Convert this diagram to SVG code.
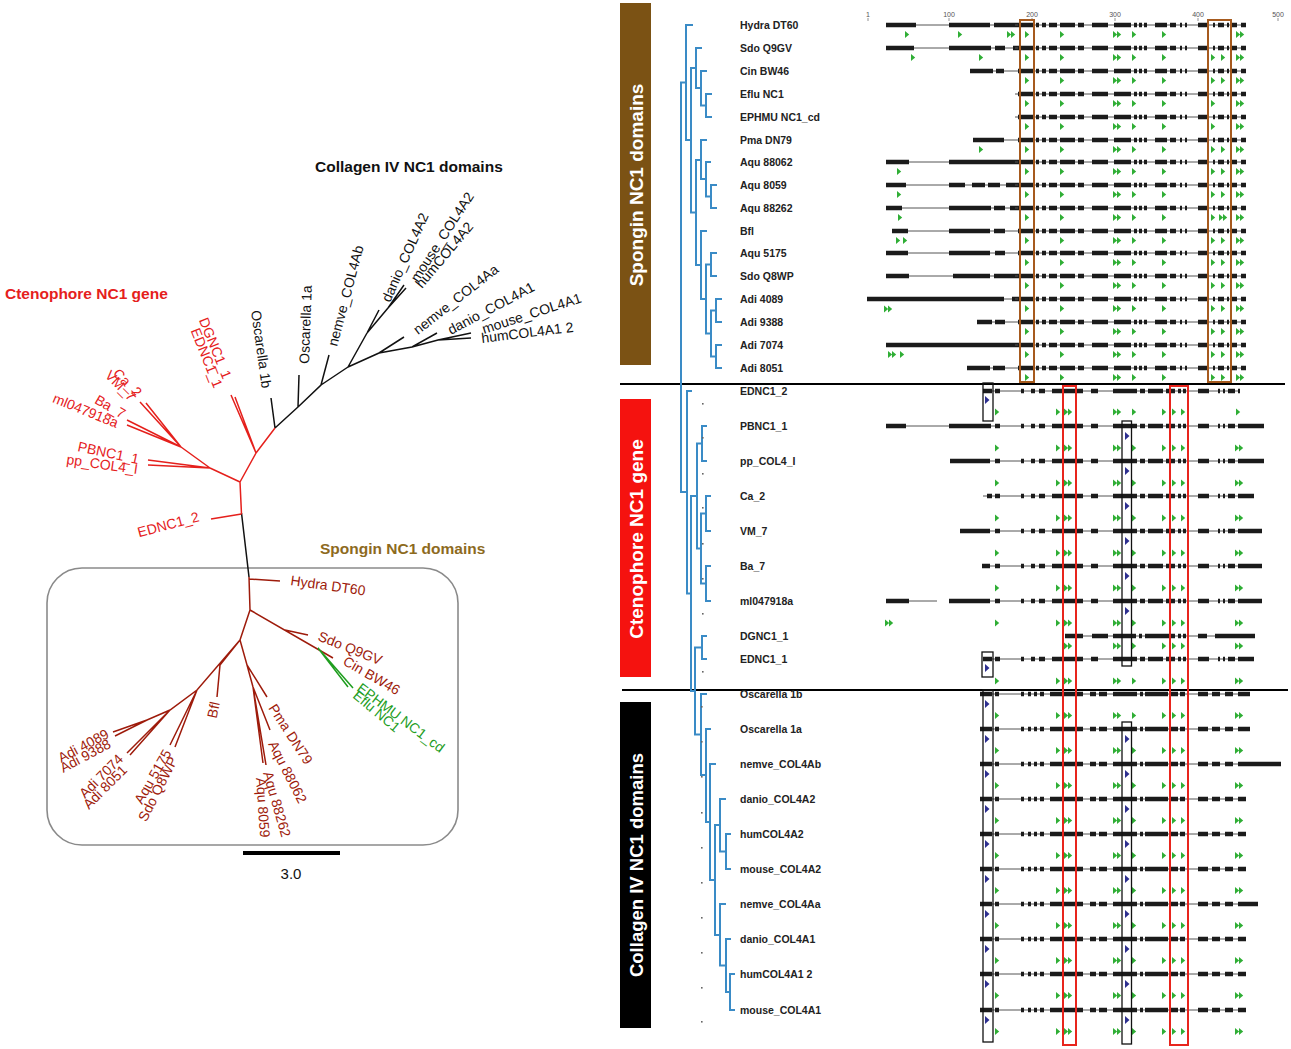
<svg xmlns="http://www.w3.org/2000/svg" width="1291" height="1049" viewBox="0 0 1291 1049">
<style>
.ln{stroke:#555;stroke-width:1;fill:none}
.ex{stroke:#1b1b1b;stroke-width:4.5;fill:none}
.tr{stroke:#3a8bc6;stroke-width:2;fill:none}
.lb{font-family:"Liberation Sans",Arial,sans-serif;font-size:10.5px;font-weight:bold;fill:#222}
.tk{font-family:"Liberation Sans",Arial,sans-serif;font-size:7px;fill:#555;text-anchor:middle}
.t{font-family:"Liberation Sans",Arial,sans-serif;font-size:14px}
.k{fill:#111}
.r{fill:#e5201c}
.s{fill:#9e1b0b}
.gr{fill:#1f9e1f}
.e{text-anchor:end}
.side{font-family:"Liberation Sans",Arial,sans-serif;font-weight:bold;fill:#fff;text-anchor:middle}
.ttl{font-family:"Liberation Sans",Arial,sans-serif;font-size:15.5px;font-weight:bold}
.bk{fill:none;stroke:#111;stroke-width:1.3}
.rb{fill:none;stroke:#e8251d;stroke-width:2}
.bb{fill:none;stroke:#a65a1e;stroke-width:2}
.lt{fill:none;stroke-width:1.5}
.dot{fill:#666}
</style>
<defs>
<path id="g" d="M0,-3.5L4.2,0L0,3.5Z" fill="#2fae35"/>
<g id="gg"><use href="#g"/><use href="#g" x="4"/></g>
<path id="b" d="M0,-4L4.5,0L0,4Z" fill="#2d2f8f"/>
<g id="spC">
<path class="ln" d="M1015,0H1246"/>
<path class="ex" d="M1018,0H1034M1036,0H1039M1042,0H1046M1049,0H1057M1060,0H1075M1078,0H1084M1092,0H1108M1114,0H1131M1134,0H1137M1139,0H1142M1144,0H1147M1155,0H1167M1170,0H1176M1180,0H1182M1185,0H1187M1198,0H1209M1213,0H1215M1218,0H1224M1227,0H1229M1232,0H1237M1241,0H1246"/>
<use href="#g" x="1025" y="9.5"/><use href="#g" x="1060" y="9.5"/><use href="#gg" x="1113" y="9.5"/><use href="#g" x="1132" y="9.5"/><use href="#g" x="1162" y="9.5"/><use href="#gg" x="1236" y="9.5"/>
</g>
<g id="spX"><use href="#g" x="1211" y="9.5"/><use href="#g" x="1221" y="9.5"/></g>
<g id="ctC">
<path class="ln" d="M983,0H1238"/>
<path class="ex" d="M995,0H1000M1021,0H1024M1031,0H1035M1039,0H1045M1052,0H1062M1064,0H1083M1091,0H1098M1113,0H1137M1140,0H1145M1148,0H1163M1166,0H1175M1178,0H1181M1183,0H1186M1198,0H1209M1218,0H1220M1223,0H1225M1228,0H1235"/>
</g>
<g id="ctA"><use href="#g" x="995"/><use href="#g" x="1056"/><use href="#gg" x="1064"/><use href="#gg" x="1113"/><use href="#g" x="1132"/><use href="#g" x="1162"/><use href="#g" x="1172"/><use href="#g" x="1181"/><use href="#gg" x="1235"/></g>
<g id="coC">
<path class="ln" d="M980,0H1246"/>
<path class="ex" d="M980,0H992M995,0H999M1021,0H1024M1028,0H1031M1034,0H1037M1040,0H1044M1050,0H1083M1090,0H1096M1099,0H1107M1113,0H1137M1140,0H1143M1145,0H1168M1170,0H1178M1180,0H1185M1198,0H1208M1212,0H1220M1225,0H1233M1238,0H1246"/>
<use href="#ctA" y="21.5"/>
<use href="#b" x="985" y="10"/>
</g>
</defs>

<rect width="1291" height="1049" fill="#fff"/>

<!-- LEFT PANEL -->
<g id="titles">
<text class="ttl k" x="315" y="172">Collagen IV NC1 domains</text>
<text class="ttl" fill="#e5201c" x="5" y="299">Ctenophore NC1 gene</text>
<text class="ttl" fill="#8d6a1e" x="320" y="554">Spongin NC1 domains</text>
</g>
<rect id="spongin-box" x="47" y="568" width="411" height="277" rx="35" fill="none" stroke="#8a8a8a" stroke-width="1.6"/>
<g id="tree-left" class="lt">
<path stroke="#111" d="M249,577L241.5,513M275,428L271,398M275,428L298,407L299,375M298,407L321,385L329,355M321,385L348,367M348,367L367,333L379,310M367,333L388,308L406,288M388,308L404,285M348,367L379,353L404,337M379,353L412,347L437,333M412,347L438,340L471,333M438,340L471,338"/>
<path stroke="#e5201c" d="M241.5,514L240,482M241.5,514L211,519M240,482L210,468M240,482L256,453M256,453L231,395M256,453L235,397M256,453L275,428M210,468L148,460M210,468L148,465M210,468L181,447M181,447L140,402M181,447L146,403M181,447L127,420M181,447L127,425"/>
<path stroke="#9e1b0b" d="M249,577L250,610M249,579L280,581M250,610L333,658M285,630L308,635M250,610L240,640M240,640L247,665L267,697M247,665L253,687L270,730M253,687L263,763M253,687L266,765M240,640L220,665L217,697M240,640L197,690L170,710L147,720L113,732M147,720L115,736M170,710L127,753M170,710L130,755M197,690L170,745M197,690L175,747"/>
<path stroke="#1f9e1f" d="M318,648L353,688M318,648L348,687"/>
</g>
<g id="labels-collagen" class="t k">
<text transform="translate(251,311) rotate(82)">Oscarella 1b</text>
<text transform="translate(309,364) rotate(-88)">Oscarella 1a</text>
<text transform="translate(337,347) rotate(-75)">nemve_COL4Ab</text>
<text transform="translate(390,303) rotate(-66)">danio_COL4A2</text>
<text transform="translate(418,283) rotate(-57)">mouse_COL4A2</text>
<text transform="translate(422,289) rotate(-50)">humCOL4A2</text>
<text transform="translate(418,335) rotate(-38)">nemve_COL4Aa</text>
<text transform="translate(451,335) rotate(-28)">danio_COL4A1</text>
<text transform="translate(484,334) rotate(-18)">mouse_COL4A1</text>
<text transform="translate(482,343) rotate(-7)">humCOL4A1 2</text>
</g>
<g id="labels-cteno" class="t r e">
<text transform="translate(200,521) rotate(-15)">EDNC1_2</text>
<text transform="translate(138,464) rotate(12)">PBNC1_1</text>
<text transform="translate(137,474) rotate(8)">pp_COL4_I</text>
<text transform="translate(136,398) rotate(45)">Ca_2</text>
<text transform="translate(130,402) rotate(45)">VM_7</text>
<text transform="translate(122,419) rotate(30)">Ba_7</text>
<text transform="translate(116,428) rotate(22)">ml047918a</text>
<text transform="translate(223,380) rotate(68)">DGNC1_1</text>
<text transform="translate(214,389) rotate(68)">EDNC1_1</text>
</g>
<g id="labels-spongin" class="t s">
<text transform="translate(290,585) rotate(8)">Hydra DT60</text>
<text transform="translate(317,640) rotate(22)">Sdo Q9GV</text>
<text transform="translate(342,664) rotate(30)">Cin BW46</text>
<text class="gr" transform="translate(356,690) rotate(37)">EPHMU NC1_cd</text>
<text class="gr" transform="translate(352,697) rotate(40)">Eflu NC1</text>
<text transform="translate(268,708) rotate(57)">Pma DN79</text>
<text transform="translate(268,744) rotate(63)">Aqu 88062</text>
<text transform="translate(263,773) rotate(74)">Aqu 88262</text>
<text transform="translate(256,778) rotate(86)">Aqu 8059</text>
<text class="e" transform="translate(220,703) rotate(-78)">Bfl</text>
<text class="e" transform="translate(172,753) rotate(-60)">Aqu 5175</text>
<text class="e" transform="translate(178,760) rotate(-63)">Sdo Q8WP</text>
<text class="e" transform="translate(110,737) rotate(-28)">Adi 4089</text>
<text class="e" transform="translate(112,747) rotate(-28)">Adi 9388</text>
<text class="e" transform="translate(124,760) rotate(-45)">Adi 7074</text>
<text class="e" transform="translate(128,771) rotate(-45)">Adi 8051</text>
</g>
<g id="scale-bar">
<path d="M243,853H340" stroke="#000" stroke-width="4"/>
<text x="291" y="879" font-family="Liberation Sans, Arial, sans-serif" font-size="15" text-anchor="middle" fill="#111">3.0</text>
</g>

<!-- RIGHT PANEL -->
<g id="sidebars">
<rect x="620" y="3" width="31" height="362" fill="#7b5214"/>
<text class="side" font-size="19" transform="translate(643,185) rotate(-90)">Spongin NC1 domains</text>
<rect x="620" y="399" width="31" height="278" fill="#f5120f"/>
<text class="side" font-size="19" transform="translate(643,539) rotate(-90)">Ctenophore NC1 gene</text>
<rect x="620" y="702" width="31" height="326" fill="#000"/>
<text class="side" font-size="18.5" transform="translate(643,865) rotate(-90)">Collagen IV NC1 domains</text>
</g>
<g id="separators" stroke="#000" stroke-width="2">
<path d="M620,384H1285"/>
<path d="M622,690H1288"/>
</g>
<g id="ruler">
<text class="tk" x="868" y="17">1</text><text class="tk" x="949" y="17">100</text><text class="tk" x="1032" y="17">200</text><text class="tk" x="1115" y="17">300</text><text class="tk" x="1198" y="17">400</text><text class="tk" x="1278" y="17">500</text>
<path d="M868,18V21M949,18V21M1032,18V21M1115,18V21M1198,18V21M1278,18V21" stroke="#777" stroke-width="0.8"/>
</g>

<g id="tree-right" class="tr">
<path d="M712,94H706V117H712M707,71H701V105.5H706M702,48H696V88H701M717,185H711V208H717M711,162H706V196.5H711M707,140H701V179H706M717,253H711V276H717M722,299H716V322H722M722,345H716V368H722M716,310.5H711V356.5H716M711,264.5H706V333.5H711M707,231H701V299H706M701,160H696V265H701M696,68H691V212.5H696M693,25H686V140H691M686,82.5H681V492H687"/>
<path d="M707,426H702V461H707M711,496H706V531H711M711,566H706V601H711M706,513.5H701V583.5H706M702,443.5H697V548.5H701M707,636H702V659H707M692,391H687V593.5H691M697,496H691V691H695M702,647.5H695V734.5H701"/>
<path d="M707,694H701V775H706M711,729H706V822H710M716,764H710V880H715M720,825H715V935H720M726,799H720V851.5H726M731,834H726V869H731M726,904H720V965.5H726M731,939H726V992H730M735,974H730V1010H735"/>
</g>
<g id="tree-dots" class="dot">
<rect x="702" y="403" width="1.6" height="1.6"/><rect x="702" y="437" width="1.6" height="1.6"/><rect x="702" y="473" width="1.6" height="1.6"/><rect x="702" y="507" width="1.6" height="1.6"/><rect x="702" y="543" width="1.6" height="1.6"/><rect x="702" y="578" width="1.6" height="1.6"/><rect x="702" y="613" width="1.6" height="1.6"/><rect x="702" y="671" width="1.6" height="1.6"/>
<rect x="701" y="706" width="1.6" height="1.6"/><rect x="701" y="741" width="1.6" height="1.6"/><rect x="701" y="776" width="1.6" height="1.6"/><rect x="701" y="812" width="1.6" height="1.6"/><rect x="701" y="847" width="1.6" height="1.6"/><rect x="701" y="882" width="1.6" height="1.6"/><rect x="701" y="917" width="1.6" height="1.6"/><rect x="701" y="952" width="1.6" height="1.6"/><rect x="701" y="987" width="1.6" height="1.6"/><rect x="701" y="1021" width="1.6" height="1.6"/>
</g>

<!-- Spongin rows -->
<g id="n-hydra" transform="translate(0,25)"><text class="lb" x="740" y="4">Hydra DT60</text><path class="ln" d="M886,0H1015"/><path class="ex" d="M886,0H916M949,0H990M994,0H1018"/><use href="#spC"/><use href="#g" x="905" y="9.5"/><use href="#g" x="958" y="9.5"/><use href="#gg" x="1007" y="9.5"/></g>
<g id="n-sdoq9gv" transform="translate(0,48)"><text class="lb" x="740" y="4">Sdo Q9GV</text><path class="ln" d="M886,0H1015"/><path class="ex" d="M886,0H914M949,0H991M995,0H1005M1013,0H1018"/><use href="#spC"/><use href="#spX"/><use href="#g" x="911" y="9.5"/><use href="#g" x="979" y="9.5"/></g>
<g id="n-cinbw46" transform="translate(0,71)"><text class="lb" x="740" y="4">Cin BW46</text><path class="ln" d="M970,0H1015"/><path class="ex" d="M970,0H993M996,0H1004"/><use href="#spC"/><use href="#spX"/></g>
<g id="n-eflu" transform="translate(0,94)"><text class="lb" x="740" y="4">Eflu NC1</text><use href="#spC"/><use href="#g" x="1211" y="9.5"/></g>
<g id="n-ephmu" transform="translate(0,117)"><text class="lb" x="740" y="4">EPHMU NC1_cd</text><use href="#spC"/><use href="#g" x="1211" y="9.5"/></g>
<g id="n-pma" transform="translate(0,140)"><text class="lb" x="740" y="4">Pma DN79</text><path class="ln" d="M973,0H1015"/><path class="ex" d="M973,0H1004"/><use href="#spC"/><use href="#spX"/><use href="#g" x="979" y="9.5"/></g>
<g id="n-aqu88062" transform="translate(0,162)"><text class="lb" x="740" y="4">Aqu 88062</text><path class="ln" d="M886,0H1015"/><path class="ex" d="M886,0H909M949,0H1018"/><use href="#spC"/><use href="#spX"/><use href="#g" x="897" y="9.5"/></g>
<g id="n-aqu8059" transform="translate(0,185)"><text class="lb" x="740" y="4">Aqu 8059</text><path class="ln" d="M886,0H1015"/><path class="ex" d="M886,0H906M949,0H965M972,0H985M988,0H1000M1006,0H1018"/><use href="#spC"/><use href="#spX"/><use href="#g" x="897" y="9.5"/></g>
<g id="n-aqu88262" transform="translate(0,208)"><text class="lb" x="740" y="4">Aqu 88262</text><path class="ln" d="M886,0H1015"/><path class="ex" d="M886,0H902M949,0H991M994,0H1005M1010,0H1018"/><use href="#spC"/><use href="#g" x="1211" y="9.5"/><use href="#gg" x="1219" y="9.5"/><use href="#g" x="898" y="9.5"/></g>
<g id="n-bfl" transform="translate(0,231)"><text class="lb" x="740" y="4">Bfl</text><path class="ln" d="M892,0H1015" stroke="#aaa"/><path class="ex" d="M892,0H908M949,0H990M994,0H1005"/><use href="#spC"/><use href="#spX"/><use href="#g" x="896" y="9.5"/><use href="#g" x="903" y="9.5"/></g>
<g id="n-aqu5175" transform="translate(0,253)"><text class="lb" x="740" y="4">Aqu 5175</text><path class="ln" d="M886,0H1015"/><path class="ex" d="M886,0H908M949,0H990M995,0H1005"/><use href="#spC"/><use href="#spX"/></g>
<g id="n-sdoq8wp" transform="translate(0,276)"><text class="lb" x="740" y="4">Sdo Q8WP</text><path class="ln" d="M886,0H1015"/><path class="ex" d="M886,0H909M953,0H990M994,0H1018"/><use href="#spC"/><use href="#spX"/></g>
<g id="n-adi4089" transform="translate(0,299)"><text class="lb" x="740" y="4">Adi 4089</text><path class="ln" d="M867,0H1015"/><path class="ex" d="M867,0H1004M1012,0H1018"/><use href="#spC"/><use href="#spX"/><use href="#gg" x="884" y="10"/></g>
<g id="n-adi9388" transform="translate(0,322)"><text class="lb" x="740" y="4">Adi 9388</text><path class="ln" d="M977,0H1015"/><path class="ex" d="M977,0H992M995,0H1005"/><use href="#spC"/><use href="#spX"/></g>
<g id="n-adi7074" transform="translate(0,345)"><text class="lb" x="740" y="4">Adi 7074</text><path class="ex" d="M886,0H1018"/><use href="#spC"/><use href="#spX"/><use href="#gg" x="888" y="9.5"/><use href="#g" x="900" y="9.5"/></g>
<g id="n-adi8051" transform="translate(0,368)"><text class="lb" x="740" y="4">Adi 8051</text><path class="ln" d="M967,0H1015"/><path class="ex" d="M967,0H990M993,0H1005"/><use href="#spC"/><use href="#spX"/></g>

<!-- Ctenophore rows -->
<g id="n-ednc1-2" transform="translate(0,391)"><text class="lb" x="740" y="4">EDNC1_2</text><use href="#ctC"/><path class="ex" d="M983,0H992M1238,0H1240"/><use href="#b" x="985" y="9"/>
<g transform="translate(0,21)"><use href="#g" x="995"/><use href="#g" x="1056"/><use href="#gg" x="1064"/><use href="#gg" x="1113"/><use href="#g" x="1132"/><use href="#g" x="1162"/><use href="#g" x="1172"/><use href="#g" x="1181"/><use href="#g" x="1236"/></g></g>
<g id="n-pbnc1" transform="translate(0,426)"><text class="lb" x="740" y="4">PBNC1_1</text><path class="ln" d="M886,0H990"/><use href="#ctC"/><path class="ex" d="M886,0H906M949,0H991M1238,0H1264"/><use href="#ctA" y="22"/><use href="#b" x="1125" y="10"/></g>
<g id="n-ppcol4" transform="translate(0,461)"><text class="lb" x="740" y="4">pp_COL4_I</text><use href="#ctC"/><path class="ex" d="M950,0H990M1238,0H1264"/><use href="#ctA" y="22"/><use href="#b" x="1125" y="10"/></g>
<g id="n-ca2" transform="translate(0,496)"><text class="lb" x="740" y="4">Ca_2</text><use href="#ctC"/><path class="ex" d="M987,0H992M1238,0H1254"/><use href="#ctA" y="22"/><use href="#b" x="1125" y="10"/></g>
<g id="n-vm7" transform="translate(0,531)"><text class="lb" x="740" y="4">VM_7</text><use href="#ctC"/><path class="ex" d="M960,0H990M1238,0H1262"/><use href="#ctA" y="22"/><use href="#b" x="1125" y="10"/></g>
<g id="n-ba7" transform="translate(0,566)"><text class="lb" x="740" y="4">Ba_7</text><use href="#ctC"/><path class="ex" d="M982,0H990M1238,0H1262"/><use href="#ctA" y="22"/><use href="#b" x="1125" y="10"/></g>
<g id="n-ml047918a" transform="translate(0,601)"><text class="lb" x="740" y="4">ml047918a</text><path class="ln" d="M886,0H937M949,0H990"/><use href="#ctC"/><path class="ex" d="M886,0H909M949,0H990M1238,0H1262"/><use href="#ctA" y="22"/><use href="#gg" x="885" y="22"/><use href="#b" x="1125" y="10"/></g>
<g id="n-dgnc1" transform="translate(0,636)"><text class="lb" x="740" y="4">DGNC1_1</text><path class="ln" d="M1065,0H1255"/><path class="ex" d="M1065,0H1083M1092,0H1108M1113,0H1136M1139,0H1142M1145,0H1175M1178,0H1181M1183,0H1186M1198,0H1207M1215,0H1255"/>
<g transform="translate(0,10)"><use href="#gg" x="1064"/><use href="#gg" x="1113"/><use href="#g" x="1132"/><use href="#g" x="1162"/><use href="#g" x="1172"/><use href="#g" x="1181"/><use href="#gg" x="1235"/></g></g>
<g id="n-ednc1-1" transform="translate(0,659)"><text class="lb" x="740" y="4">EDNC1_1</text><use href="#ctC"/><path class="ex" d="M983,0H992M1238,0H1254"/><use href="#ctA" y="22"/><use href="#b" x="985" y="9"/></g>

<!-- Collagen rows -->
<g id="n-osc1b" transform="translate(0,694)"><text class="lb" x="740" y="4">Oscarella 1b</text><use href="#coC"/><path class="ex" d="M1246,0H1250"/></g>
<g id="n-osc1a" transform="translate(0,729)"><text class="lb" x="740" y="4">Oscarella 1a</text><use href="#coC"/><path class="ex" d="M1246,0H1250"/><use href="#b" x="1125" y="10"/></g>
<g id="n-nemveab" transform="translate(0,764)"><text class="lb" x="740" y="4">nemve_COL4Ab</text><use href="#coC"/><path class="ex" d="M1246,0H1281"/><use href="#b" x="1125" y="10"/></g>
<g id="n-danioa2" transform="translate(0,799)"><text class="lb" x="740" y="4">danio_COL4A2</text><use href="#coC"/><use href="#b" x="1125" y="10"/></g>
<g id="n-huma2" transform="translate(0,834)"><text class="lb" x="740" y="4">humCOL4A2</text><use href="#coC"/><use href="#b" x="1125" y="10"/></g>
<g id="n-mousea2" transform="translate(0,869)"><text class="lb" x="740" y="4">mouse_COL4A2</text><use href="#coC"/><use href="#b" x="1125" y="10"/></g>
<g id="n-nemveaa" transform="translate(0,904)"><text class="lb" x="740" y="4">nemve_COL4Aa</text><use href="#coC"/><path class="ex" d="M1246,0H1258"/><use href="#b" x="1125" y="10"/></g>
<g id="n-danioa1" transform="translate(0,939)"><text class="lb" x="740" y="4">danio_COL4A1</text><use href="#coC"/><use href="#b" x="1125" y="10"/></g>
<g id="n-huma1" transform="translate(0,974)"><text class="lb" x="740" y="4">humCOL4A1 2</text><use href="#coC"/><use href="#b" x="1125" y="10"/></g>
<g id="n-mousea1" transform="translate(0,1010)"><text class="lb" x="740" y="4">mouse_COL4A1</text><use href="#coC"/><use href="#b" x="1125" y="10"/></g>

<g id="highlight-boxes">
<rect class="bb" x="1020" y="20" width="14" height="362"/>
<rect class="bb" x="1208" y="20" width="23" height="362"/>
<rect class="rb" x="1063" y="386" width="13" height="659"/>
<rect class="rb" x="1170" y="386" width="18" height="659"/>
<rect class="bk" x="983" y="383" width="10" height="38"/>
<rect class="bk" x="982" y="652" width="11" height="25"/>
<rect class="bk" x="983" y="690" width="10" height="352"/>
<rect class="bk" x="1122" y="421" width="9.5" height="245"/>
<rect class="bk" x="1122" y="722" width="9.5" height="322"/>
</g>
</svg>
